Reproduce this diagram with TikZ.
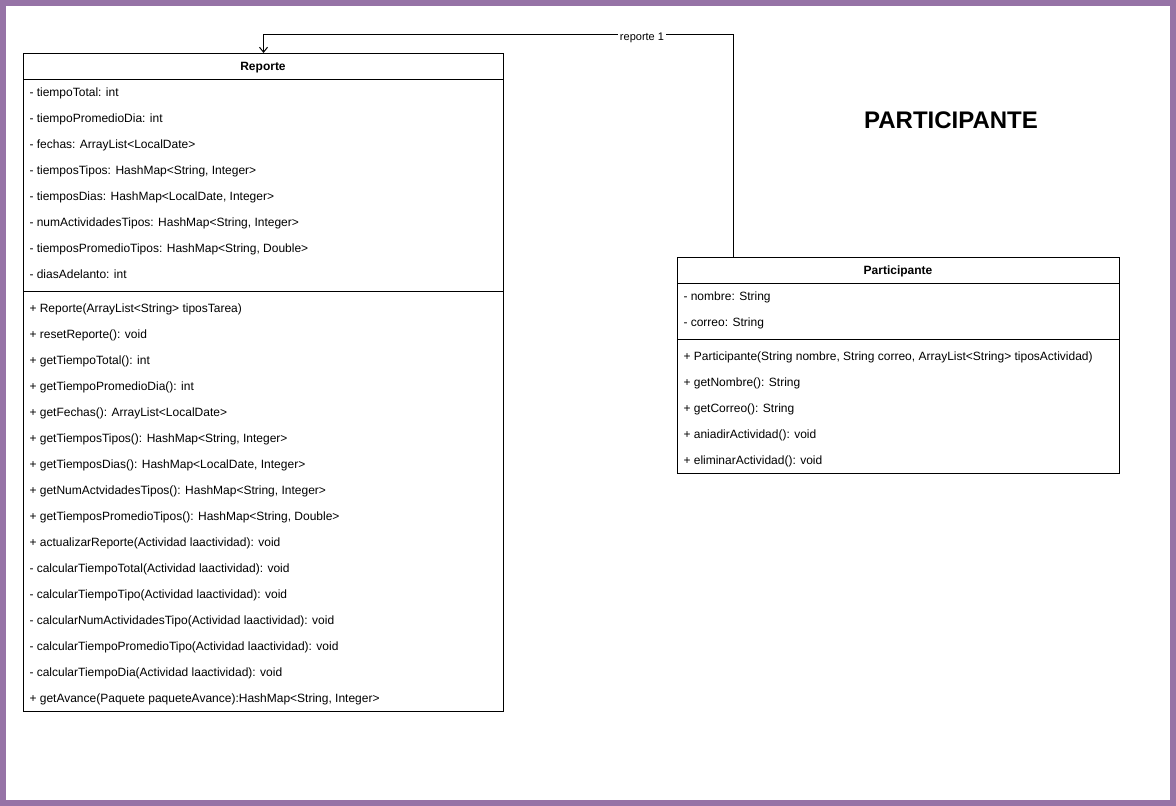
\documentclass[tikz,border=0pt]{standalone}
\usepackage{fontspec}
\setmainfont{Liberation Sans}
\usepackage{tikz}
\usetikzlibrary{arrows.meta}
\definecolor{framepurple}{HTML}{9673A6}

\begin{document}
\begin{tikzpicture}[x=1pt,y=-1pt,line width=1pt,
	every node/.style={black,font=\fontsize{12}{14}\selectfont},
	box/.style={draw,inner sep=0pt,anchor=north west},
	row/.style={anchor=base west,inner sep=0pt},
	head/.style={anchor=base,inner sep=0pt,font=\fontsize{12}{14}\selectfont\bfseries},
	lbl/.style={anchor=base,fill=white,inner sep=1.5pt,font=\fontsize{11}{13}\selectfont},
	assoc/.style={-{Straight Barb[length=5pt,width=8pt]}}]
	\useasboundingbox (0,0) rectangle (1176,806);
	\draw[framepurple,line width=6pt] (3,3) rectangle (1173,803);

%	class boxes: top left corner, width x height
	\node[box,minimum width=480pt,minimum height=658pt] (reporte) at (23,53) {};
	\node[box,minimum width=442pt,minimum height=216pt] (part) at (677,257) {};

%	header and separator lines
	\draw (reporte.west |- 0,79) -- (reporte.east |- 0,79);
	\draw (reporte.west |- 0,291) -- (reporte.east |- 0,291);
	\draw (part.west |- 0,283) -- (part.east |- 0,283);
	\draw (part.west |- 0,339) -- (part.east |- 0,339);

	\node[head] (reporteT) at (263,70.8) {Reporte};
	\node[head] (partT) at (898,274.8) {Participante};

%	Reporte: attributes then methods, 26 apart
	\foreach \t [count=\i from 0] in {{- tiempoTotal: int},{- tiempoPromedioDia: int},
		{- fechas: ArrayList<LocalDate>},{- tiemposTipos: HashMap<String, Integer>},
		{- tiemposDias: HashMap<LocalDate, Integer>},{- numActividadesTipos: HashMap<String, Integer>},
		{- tiemposPromedioTipos: HashMap<String, Double>},{- diasAdelanto: int}}
		\node[row] (ra\i) at (29,96.8+26*\i) {\t};
	\foreach \t [count=\i from 0] in {{+ Reporte(ArrayList<String> tiposTarea)},{+ resetReporte(): void},
		{+ getTiempoTotal(): int},{+ getTiempoPromedioDia(): int},
		{+ getFechas(): ArrayList<LocalDate>},{+ getTiemposTipos(): HashMap<String, Integer>},
		{+ getTiemposDias(): HashMap<LocalDate, Integer>},{+ getNumActvidadesTipos(): HashMap<String, Integer>},
		{+ getTiemposPromedioTipos(): HashMap<String, Double>},{+ actualizarReporte(Actividad laactividad): void},
		{- calcularTiempoTotal(Actividad laactividad): void},{- calcularTiempoTipo(Actividad laactividad): void},
		{- calcularNumActividadesTipo(Actividad laactividad): void},{- calcularTiempoPromedioTipo(Actividad laactividad): void},
		{- calcularTiempoDia(Actividad laactividad): void},{+ getAvance(Paquete paqueteAvance):HashMap<String, Integer>}}
		\node[row] (rm\i) at (29,312.8+26*\i) {\t};

%	Participante
	\foreach \t [count=\i from 0] in {{- nombre: String},{- correo: String}}
		\node[row] (pa\i) at (683,300.8+26*\i) {\t};
	\foreach \t [count=\i from 0] in {{+ Participante(String nombre, String correo, ArrayList<String> tiposActividad)},
		{+ getNombre(): String},{+ getCorreo(): String},{+ aniadirActividad(): void},{+ eliminarActividad(): void}}
		\node[row] (pm\i) at (683,360.8+26*\i) {\t};

	\node[anchor=base,font=\fontsize{24}{28}\selectfont\bfseries] (titulo) at (951,128) {PARTICIPANTE};

%	association
	\draw[assoc] ([xshift=56pt]part.north west) |- (reporte.north |- 0,34) -- (reporte.north);
	\node[lbl] (rol) at (642,40.5) {reporte 1};
\end{tikzpicture}
\end{document}
